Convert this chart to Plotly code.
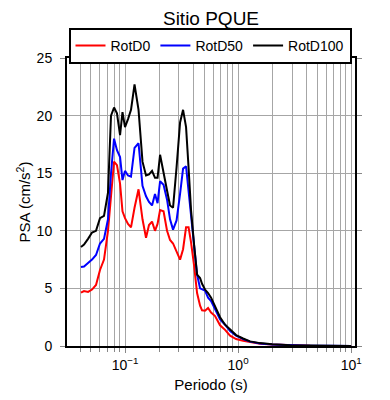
import plotly.graph_objects as go

periodo = [0.0408, 0.0434, 0.0471, 0.0511, 0.0554, 0.0601, 0.0652, 0.0707, 0.0752, 0.0800,
           0.0849, 0.0904, 0.0950, 0.1000, 0.1063, 0.1130, 0.1214, 0.1317, 0.1428, 0.1534,
           0.1630, 0.1734, 0.1842, 0.1940, 0.2042, 0.2192, 0.2354, 0.2502, 0.2660, 0.2857,
           0.3069, 0.3262, 0.3467, 0.3648, 0.3838, 0.4081, 0.4339, 0.4612, 0.4800, 0.5101,
           0.5428, 0.5771, 0.6257, 0.6929, 0.7674, 0.8498, 0.9598, 1.107, 1.277, 1.566,
           2.0, 2.886, 4.34, 6.52, 10.0]

rotd100 = [8.6, 8.8, 9.3, 9.85, 10.0, 11.1, 11.3, 13.3, 20.0, 20.7,
           20.2, 18.3, 20.3, 19.0, 19.7, 20.5, 22.7, 20.5, 16.0, 14.8,
           14.9, 15.2, 14.6, 14.6, 16.6, 15.2, 13.5, 12.2, 12.0, 15.5,
           19.4, 20.5, 19.0, 15.5, 11.8, 8.8, 6.2, 5.9, 5.4, 4.9,
           4.6, 4.2, 3.4, 2.5, 1.85, 1.4, 0.95, 0.65, 0.4, 0.25,
           0.15, 0.07, 0.04, 0.02, 0.01]

rotd50 = [6.85, 6.9, 7.2, 7.5, 7.9, 8.9, 9.3, 11.0, 15.0, 18.0,
          17.0, 16.4, 14.4, 15.2, 14.8, 14.7, 17.2, 17.6, 13.9, 13.0,
          12.5, 12.2, 13.2, 12.4, 14.3, 14.0, 12.7, 11.0, 10.1, 10.9,
          13.2, 15.4, 15.6, 13.5, 11.5, 8.6, 6.2, 5.0, 4.9, 4.8,
          4.2, 3.9, 3.2, 2.3, 1.85, 1.3, 0.9, 0.6, 0.38, 0.22,
          0.13, 0.06, 0.03, 0.02, 0.01]

rotd0 = [4.63, 4.77, 4.7, 4.9, 5.3, 6.6, 7.5, 10.0, 13.0, 16.0,
         15.7, 14.1, 11.7, 11.1, 10.6, 10.3, 12.0, 13.6, 11.0, 9.4,
         10.5, 10.8, 10.0, 10.6, 11.8, 11.7, 10.0, 9.2, 8.9, 8.2,
         7.5, 8.4, 10.3, 10.3, 9.0, 7.0, 4.6, 3.5, 3.1, 3.06,
         3.3, 2.9, 2.6, 1.8, 1.4, 0.9, 0.6, 0.45, 0.32, 0.2,
         0.12, 0.05, 0.02, 0.01, 0.01]

series_names = ["RotD0", "RotD50", "RotD100"]
series_colors = ["#ff0000", "#0000ff", "#000000"]
series_values = [rotd0, rotd50, rotd100]

major_x = [0.1, 1, 10]
major_x_text = ["10<sup>−1</sup>", "10<sup>0</sup>", "10<sup>1</sup>"]
minor_x = [m * d for d in (0.01, 0.1, 1) for m in range(2, 10)] + [m * 10 for m in range(2, 10)]
minor_x = [v for v in minor_x if 0.031 < v < 10.8 and v not in major_x]
y_ticks = [0, 5, 10, 15, 20, 25]

fig = go.Figure()
for name, color, vals in zip(series_names, series_colors, series_values):
    fig.add_trace(go.Scatter(x=periodo, y=vals, mode="lines", name=name,
                             line=dict(color=color, width=2)))

# page is offset by the 8px default body margin, so figure is 382x392
W, H = 382, 392
font = "Liberation Sans, Arial, sans-serif"
grid = "#a6a6a6"
fig.update_layout(
    width=W, height=H,
    margin=dict(l=59, r=35, t=50, b=54, autoexpand=False),
    plot_bgcolor="white", paper_bgcolor="white",
    font=dict(family=font, size=14, color="black"),
    title=dict(text="Sitio PQUE", x=203 / W, xref="container", xanchor="center",
               y=1 - 10 / H, yref="container", yanchor="middle",
               font=dict(size=19, color="black")),
    legend=dict(orientation="h", x=202 / W, xanchor="center", xref="container",
                y=1 - 20 / H, yref="container", yanchor="top",
                bordercolor="black", borderwidth=2, font=dict(size=14),
                tracegroupgap=0),
    showlegend=True,
)
fig.update_xaxes(
    type="log", range=[-1.513, 1.034], automargin=False,
    tickvals=major_x, ticktext=major_x_text, ticks="outside", ticklen=5,
    tickcolor="#888888", showgrid=True, gridcolor=grid, gridwidth=1,
    showline=True, linecolor="black", linewidth=2, mirror="ticks",
    minor=dict(tickvals=minor_x, ticks="outside", ticklen=4, tickcolor="#888888",
               showgrid=True, gridcolor=grid, gridwidth=1),
    title=dict(text="Periodo (s)", font=dict(size=15), standoff=8),
    zeroline=False,
)
fig.update_yaxes(
    range=[0, 25], tickvals=y_ticks, ticks="outside", ticklen=5, tickcolor="#888888",
    automargin=False, ticklabelstandoff=5,
    showgrid=True, gridcolor=grid, gridwidth=1,
    showline=True, linecolor="black", linewidth=2, mirror="ticks",
    title=dict(text="PSA (cm/s<sup>2</sup>)", font=dict(size=15), standoff=2),
    zeroline=False,
)
fig.write_html("out.html")
